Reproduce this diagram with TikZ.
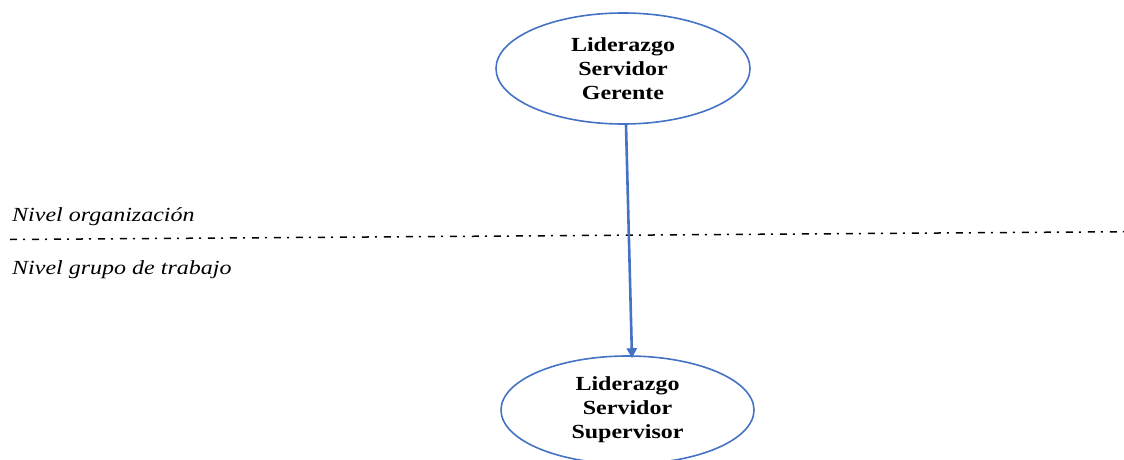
\documentclass[tikz,border=0pt]{standalone}
\usepackage{fontspec}
\setmainfont{Liberation Serif}[FakeStretch=1.2]
\usetikzlibrary{shapes.geometric,arrows.meta}
\definecolor{linkblue}{RGB}{68,114,196}
\tikzset{
  leader/.style={ellipse, draw=linkblue, line width=1.6pt, inner sep=0pt,
    font=\fontsize{20}{24}\selectfont\bfseries, align=center},
  levellabel/.style={anchor=base west, inner sep=0pt,
    font=\fontsize{20}{24}\selectfont\itshape},
  flow/.style={draw=linkblue, line width=2.6pt,
    -{Triangle[length=10pt,width=10pt]}},
  divider/.style={line width=1.5pt, dash pattern=on 7pt off 6pt on 2pt off 7pt}
}
\begin{document}
\begin{tikzpicture}[x=1pt,y=-1pt]
  \useasboundingbox (0,0) rectangle (1124,460);
  % two leadership levels
  \node[leader, minimum width=254pt, minimum height=111pt] (top) at (623,68.5)
    {Liderazgo\\Servidor\\Gerente};
  \node[leader, minimum width=253pt, minimum height=108pt] (bot) at (627.5,410)
    {Liderazgo\\Servidor\\Supervisor};
  % boundary between organisation and work group
  \coordinate (lineL) at (10,239.5);
  \coordinate (lineR) at (1124,231.7);
  \draw[divider] (lineL) -- (lineR);
  \node[levellabel] (org) at (12,221) {Nivel organización};
  \node[levellabel] (grp) at (12,274) {Nivel grupo de trabajo};
  % influence from manager to supervisor
  \draw[flow] ([xshift=3pt]top.south) -- ([xshift=4.5pt,yshift=-3pt]bot.north);
\end{tikzpicture}
\end{document}
